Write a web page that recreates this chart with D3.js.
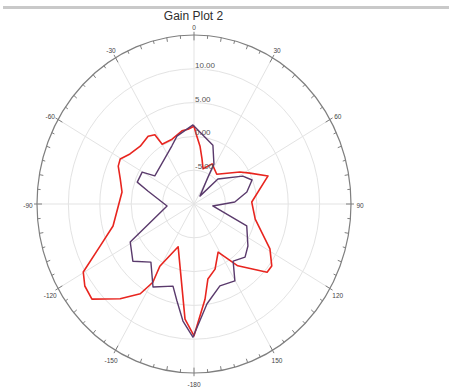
<!DOCTYPE html>
<html>
<head>
<meta charset="utf-8">
<script src="https://cdn.jsdelivr.net/npm/d3@7"></script>
<style>
  body { margin: 0; background: #fff; }
  svg { display: block; }
  text { -webkit-font-smoothing: antialiased; }
</style>
</head>
<body>
<svg id="chart" width="449" height="391"></svg>
<script>
// ---- chart data -------------------------------------------------------
const chartTitle = "Gain Plot 2";
const radialDomain = [-10, 15];                    // dB at centre .. outer rim
const ringValues = [-5, 0, 5, 10];
const ringLabels = ["-5.00", "0.00", "5.00", "10.00"];
const angleTicks = [0, 30, 60, 90, 120, 150, 180, -150, -120, -90, -60, -30];
const angleLabels = ["0", "30", "60", "90", "120", "150", "-180", "-150", "-120", "-90", "-60", "-30"];

// trace 1 (red): angle in degrees (0 = top, clockwise), gain in dB
const redAngle = [0, 1.8, 6.4, 10.8, 15.5, 25.9, 39.5, 57.1, 62.8, 70.6, 88.2, 102.9,
  118.8, 126.5, 130.9, 142.7, 151.7, 160.8, 168.7, 172.9, 180, -175.2, -158.2, -149.4,
  -150.5, -147.2, -140.0, -130.9, -124.9, -119.7, -112.6, -104.2, -81.2, -72.6, -65.1,
  -60.5, -54.0, -45.0, -36.1, -31.3, -29.8, -20.0, -10.0, -4.9];
const redGain = [1.5, 0.4, -1.4, -3.2, -4.6, -3.4, -4.3, -1.3, 0.0, 2.5, -0.8, 0.0,
  3.8, 5.4, 5.4, 1.5, -1.9, 0.2, 1.3, 4.2, 9.5, 7.1, -3.2, 0.7,
  3.3, 5.8, 8.3, 11.5, 11.2, 10.3, 6.2, 3.3, 1.6, 2.3, 3.3,
  3.5, 2.6, 2.1, 2.4, 2.0, 0.2, 0.2, 1.0, 1.1];

// trace 2 (purple)
const purpleAngle = [-0.8, 19.1, 28.3, 29.2, 39.1, 45.9, 62.0, 69.0, 78.1, 87.4, 95.6,
  111.1, 125.9, 134.0, 143.6, 150.2, 161.2, 172.0, -179.5, -174.2, -169.3, -164.6,
  -152.0, -141.4, -131.0, -118.9, -93.9, -75.3, -70.3, -60.3, -56.3, -22.2, -15.1];
const purpleGain = [1.7, -0.8, -3.3, -5.4, -8.5, -4.7, -1.2, -0.1, -1.4, -3.5, -7.0,
  -1.0, 0.6, 1.3, 0.5, 3.1, 2.8, 4.9, 9.7, 7.4, 4.6, 2.6,
  3.9, 1.0, 2.9, 1.6, -5.7, -2.4, -0.4, -0.5, -2.5, -0.7, 0.4];

// ---- layout -----------------------------------------------------------
const cx = 194, cy = 204;
const R = 157;                 // horizontal radius of the rim
const yStretch = 169 / 157;    // the polar frame is drawn slightly taller than wide
const rad = d => d * Math.PI / 180;
const font = "'Liberation Sans', Arial, sans-serif";

const svg = d3.select("#chart");

// header rule
svg.append("rect")
  .attr("x", 3).attr("y", 6).attr("width", 446).attr("height", 3)
  .attr("fill", "#c9c9c9");

svg.append("text")
  .attr("x", 193.5).attr("y", 19.5)
  .attr("text-anchor", "middle")
  .attr("font-family", font)
  .attr("font-size", 12)
  .attr("fill", "#2e2e2e")
  .text(chartTitle);

const r = d3.scaleLinear().domain(radialDomain).range([0, R]);

const plot = svg.append("g")
  .attr("transform", `translate(${cx},${cy}) scale(1,${yStretch})`);

// grid rings
plot.selectAll("circle.ring").data(ringValues).join("circle")
  .attr("class", "ring")
  .attr("r", d => r(d))
  .attr("fill", "none")
  .attr("stroke", "#e3e3e3")
  .attr("stroke-width", 1)
  .attr("vector-effect", "non-scaling-stroke");

// spokes every 30 degrees
plot.selectAll("line.spoke").data(d3.range(0, 360, 30)).join("line")
  .attr("class", "spoke")
  .attr("x1", 0).attr("y1", 0)
  .attr("x2", d => R * Math.sin(rad(d)))
  .attr("y2", d => -R * Math.cos(rad(d)))
  .attr("stroke", "#e3e3e3")
  .attr("stroke-width", 1)
  .attr("vector-effect", "non-scaling-stroke");

// outer rim
plot.append("circle")
  .attr("r", R)
  .attr("fill", "none")
  .attr("stroke", "#7f7f7f")
  .attr("stroke-width", 1.2)
  .attr("vector-effect", "non-scaling-stroke");

// rim ticks: every 5 deg, longer every 10 deg, crossing ticks every 30 deg
const tickIn = d => d % 30 === 0 ? 5 : d % 10 === 0 ? 4 : 3;
const tickOut = d => d % 30 === 0 ? 3 : 0;
plot.selectAll("line.tick").data(d3.range(0, 360, 5)).join("line")
  .attr("class", "tick")
  .attr("x1", d => (R - tickIn(d)) * Math.sin(rad(d)))
  .attr("y1", d => -(R - tickIn(d)) * Math.cos(rad(d)))
  .attr("x2", d => (R + tickOut(d)) * Math.sin(rad(d)))
  .attr("y2", d => -(R + tickOut(d)) * Math.cos(rad(d)))
  .attr("stroke", "#7f7f7f")
  .attr("stroke-width", 1)
  .attr("vector-effect", "non-scaling-stroke");

// angle labels around the rim
svg.selectAll("text.alab").data(angleTicks).join("text")
  .attr("class", "alab")
  .attr("x", d => cx + (R + 9) * Math.sin(rad(d)))
  .attr("y", d => cy - (R + 9) * yStretch * Math.cos(rad(d)) + 2.5)
  .attr("text-anchor", "middle")
  .attr("dominant-baseline", "middle")
  .attr("font-family", font)
  .attr("font-size", 6.5)
  .attr("fill", "#444")
  .text((d, i) => angleLabels[i]);

// ring value labels up the 0-degree spoke
svg.selectAll("text.rlab").data(ringValues).join("text")
  .attr("class", "rlab")
  .attr("x", cx + 1)
  .attr("y", d => cy - r(d) * yStretch - 1)
  .attr("font-family", font)
  .attr("font-size", 8)
  .attr("fill", "#555")
  .text((d, i) => ringLabels[i]);

// traces
const radial = d3.lineRadial()
  .angle(d => rad(d[0]))
  .radius(d => r(d[1]))
  .curve(d3.curveLinearClosed);

const redPts = redAngle.map((a, i) => [a, redGain[i]]);
const purplePts = purpleAngle.map((a, i) => [a, purpleGain[i]]);

plot.append("path")
  .attr("d", radial(redPts))
  .attr("fill", "none")
  .attr("stroke", "#e8251f")
  .attr("stroke-width", 1.6)
  .attr("stroke-linejoin", "round")
  .attr("vector-effect", "non-scaling-stroke");

plot.append("path")
  .attr("d", radial(purplePts))
  .attr("fill", "none")
  .attr("stroke", "#5a3a6c")
  .attr("stroke-width", 1.4)
  .attr("stroke-linejoin", "round")
  .attr("vector-effect", "non-scaling-stroke");
</script>
</body>
</html>
